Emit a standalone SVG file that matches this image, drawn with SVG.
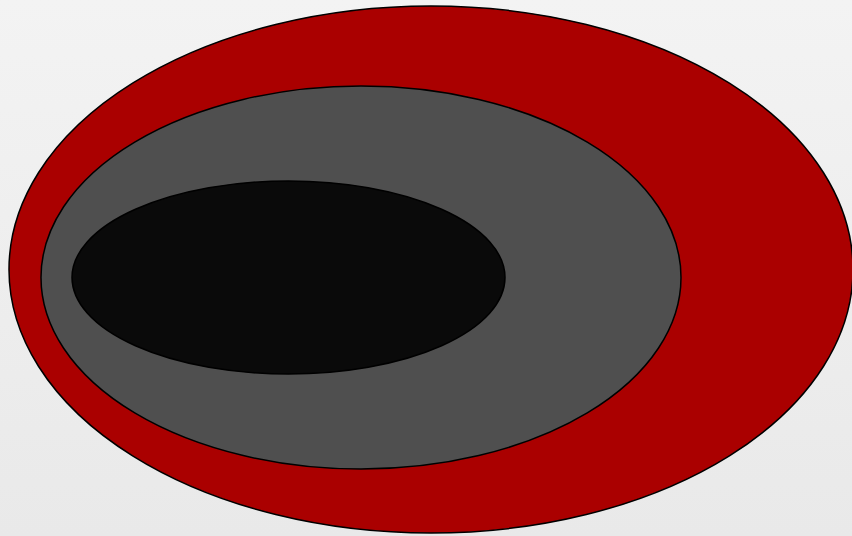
<svg xmlns="http://www.w3.org/2000/svg" width="852" height="536" viewBox="0 0 852 536">
<defs>
<linearGradient id="bg" x1="0" y1="0" x2="0" y2="1">
<stop offset="0" stop-color="#f3f3f3"/>
<stop offset="1" stop-color="#e9e9e9"/>
</linearGradient>
</defs>
<style>
.e{stroke:#000;stroke-width:1.5}
</style>
<rect width="852" height="536" fill="url(#bg)"/>
<g id="outer"><ellipse class="e" cx="431" cy="269.5" rx="422" ry="263.5" fill="#aa0000"/></g>
<g id="middle"><ellipse class="e" cx="361" cy="277.5" rx="320" ry="191.5" fill="#4f4f4f"/></g>
<g id="inner"><ellipse class="e" cx="288.5" cy="277.5" rx="216.5" ry="96.5" fill="#0a0a0a"/></g>
<g id="connectors"/>
</svg>
